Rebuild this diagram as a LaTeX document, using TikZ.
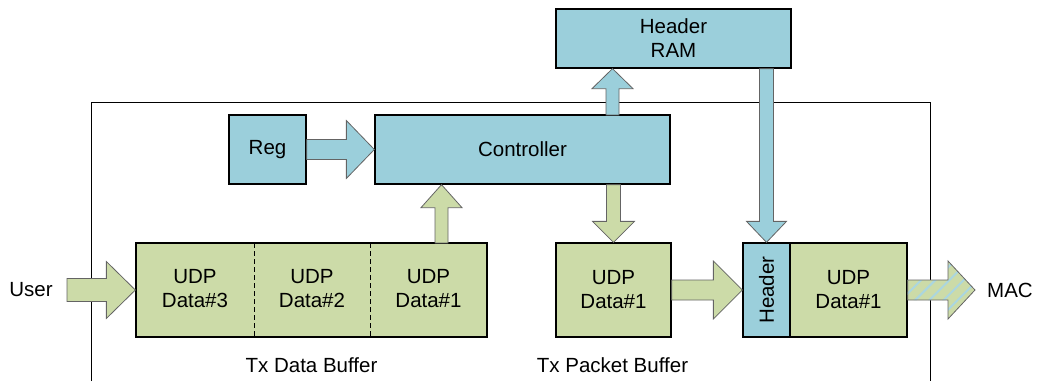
\documentclass[tikz,border=0pt]{standalone}
\usepackage{fontspec}
\setmainfont{Liberation Sans}
\usetikzlibrary{calc,patterns.meta}

\definecolor{ctlblue}{RGB}{155,207,219}
\definecolor{udpgreen}{RGB}{204,219,168}
\definecolor{edgegray}{RGB}{100,100,100}

% block arrow: style, from, to, half shaft width, half head width, head length
\newcommand\blockarrow[6]{%
  \coordinate (bas) at (#2);
  \coordinate (bat) at (#3);
  \coordinate (bah) at ($(bat)!#6!(bas)$);
  \path[#1] ($(bas)!#4!90:(bat)$) -- ($(bah)!#4!-90:(bas)$)
    -- ($(bah)!#5!-90:(bas)$) -- (bat) -- ($(bah)!#5!90:(bas)$)
    -- ($(bah)!#4!90:(bas)$) -- ($(bas)!#4!-90:(bat)$) -- cycle;
}

\tikzset{
  box/.style={draw=black, line width=1.3pt, inner sep=0pt, align=center},
  bluebox/.style={box, fill=ctlblue},
  greenbox/.style={box, fill=udpgreen},
  greenarrow/.style={fill=udpgreen, draw=edgegray, line width=0.8pt, line join=miter},
  bluearrow/.style={fill=ctlblue, draw=edgegray, line width=0.8pt, line join=miter},
  label/.style={inner sep=0pt, align=center},
  divider/.style={dash pattern=on 5pt off 3pt, line width=0.9pt},
}

\begin{document}
\begin{tikzpicture}[x=1pt, y=-1pt, font=\fontsize{20.5}{24}\selectfont]
\useasboundingbox (0,0) rectangle (1037,381);

% enclosing module frame, open at the bottom
\draw[line width=0.9pt] (91,381) -- (91,102) -- (930,102) -- (930,381);

% boxes
\node[bluebox, minimum width=235pt, minimum height=59pt] (ram) at (673.5,38.5) {Header\\RAM};
\node[bluebox, minimum width=295pt, minimum height=69pt] (ctrl) at (522.5,149.5) {Controller};
\node[bluebox, minimum width=77pt, minimum height=69pt] (reg) at (267.5,149.5) {Reg};

\node[greenbox, minimum width=351pt, minimum height=94pt] (buf) at (311.5,290) {};
\draw[divider] (254,243) -- (254,337);
\draw[divider] (370,243) -- (370,337);
\node[label] (d3) at (195,289) {UDP\\Data\#3};
\node[label] (d2) at (312,289) {UDP\\Data\#2};
\node[label] (d1) at (428.5,289) {UDP\\Data\#1};

\node[greenbox, minimum width=115pt, minimum height=94pt] (pkt) at (613.5,290) {UDP\\Data\#1};
\node[bluebox, minimum width=47pt, minimum height=94pt] (hdr) at (766.5,290) {\rotatebox{90}{Header}};
\node[greenbox, minimum width=117pt, minimum height=94pt] (out) at (848.5,290) {UDP\\Data\#1};

% outside labels
\node[label] (user) at (31,290) {User};
\node[label] (mac) at (1010,290) {MAC};
\node[label] (buflbl) at ($(buf.south)+(0,28)$) {Tx Data Buffer};
\node[label] (pktlbl) at ($(pkt.south)+(-1,28)$) {Tx Packet Buffer};

% free arrow ends
\coordinate (userin) at (67,290);
\coordinate (bufup) at (441.5,243);
\coordinate (ctrlup) at (612.5,115);
\coordinate (macout) at (975,290);

% block arrows
\blockarrow{greenarrow}{userin}{buf.west}{11.5pt}{28.5pt}{29pt}
\blockarrow{bluearrow}{reg.east}{ctrl.west}{10pt}{29pt}{28pt}
\blockarrow{greenarrow}{bufup}{bufup |- ctrl.south}{6.5pt}{20.5pt}{23pt}
\blockarrow{bluearrow}{ctrlup}{ctrlup |- ram.south}{6.5pt}{20.5pt}{20pt}
\blockarrow{greenarrow}{pkt.north |- ctrl.south}{pkt.north}{7pt}{21pt}{21pt}
\blockarrow{greenarrow}{pkt.east}{hdr.west}{10pt}{29pt}{29pt}
\blockarrow{bluearrow}{hdr.north |- ram.south}{hdr.north}{7pt}{20pt}{21pt}
\blockarrow{preaction={fill=udpgreen},
  preaction={pattern={Lines[angle=45,distance=10pt,line width=2pt]}, pattern color=ctlblue!85},
  draw=edgegray, line width=0.8pt, line join=miter}{out.east}{macout}{10pt}{29pt}{27pt}
\end{tikzpicture}
\end{document}
